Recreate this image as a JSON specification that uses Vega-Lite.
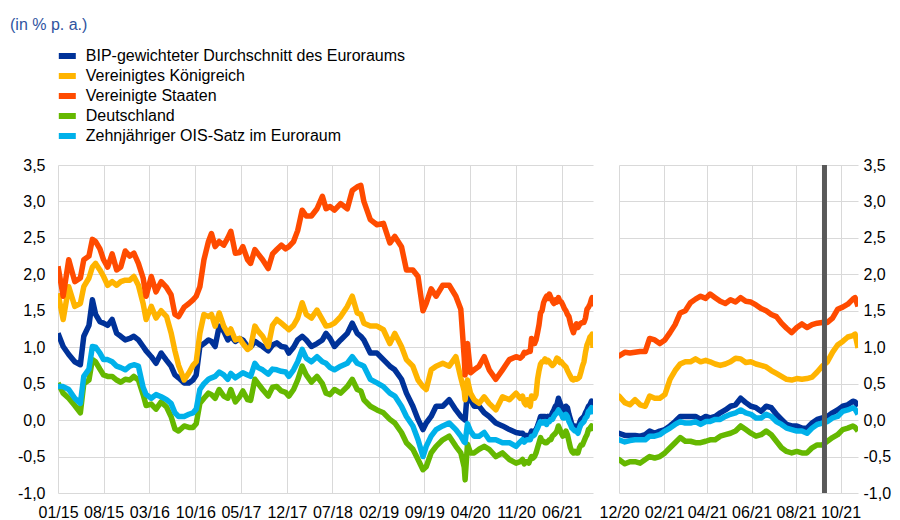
{
  "$schema": "https://vega.github.io/schema/vega-lite/v6.json",
  "background": "white",
  "padding": {"left": 10, "top": 17, "right": 9, "bottom": 0},
  "title": {"text": "(in % p. a.)", "anchor": "start", "frame": "bounds", "font": "Liberation Sans", "fontSize": 16, "fontWeight": "normal", "color": "#2F54A0", "offset": 13},
  "config": {
    "locale": {"number": {"decimal": ",", "thousands": ".", "grouping": [3], "currency": ["", " €"], "minus": "-"}},
    "font": "Liberation Sans",
    "view": {"stroke": null},
    "axis": {"labelFont": "Liberation Sans", "labelFontSize": 16, "labelColor": "#000000", "gridColor": "#d9d9d9", "gridWidth": 1, "domain": false, "ticks": false, "title": null, "labelOverlap": false},
    "legend": {"orient": "none", "legendX": -2.2, "legendY": -119, "symbolType": "stroke", "symbolStrokeWidth": 6, "symbolSize": 289, "labelFont": "Liberation Sans", "labelFontSize": 16, "labelColor": "#000000", "rowPadding": 0, "clipHeight": 20, "labelOffset": 7, "labelLimit": 600}
  },
  "bounds": "flush",
  "spacing": 26,
  "resolve": {"scale": {"color": "shared"}, "legend": {"color": "shared"}},
  "datasets": {
    "yields": [
      {"d": "2015-01-01", "EA": 1.19, "UK": 1.74, "US": 2.11, "DE": 0.51, "OIS": 0.46},
      {"d": "2015-01-25", "EA": 1.01, "UK": 1.38, "US": 1.70, "DE": 0.37, "OIS": 0.46},
      {"d": "2015-02-20", "EA": 0.90, "UK": 1.83, "US": 2.20, "DE": 0.30, "OIS": 0.42},
      {"d": "2015-03-20", "EA": 0.80, "UK": 1.56, "US": 1.90, "DE": 0.20, "OIS": 0.30},
      {"d": "2015-04-15", "EA": 0.76, "UK": 1.60, "US": 1.95, "DE": 0.10, "OIS": 0.23},
      {"d": "2015-05-01", "EA": 1.15, "UK": 1.83, "US": 2.20, "DE": 0.50, "OIS": 0.60},
      {"d": "2015-05-25", "EA": 1.30, "UK": 1.95, "US": 2.25, "DE": 0.55, "OIS": 0.70},
      {"d": "2015-06-10", "EA": 1.65, "UK": 2.10, "US": 2.48, "DE": 0.83, "OIS": 1.01},
      {"d": "2015-06-25", "EA": 1.45, "UK": 2.15, "US": 2.45, "DE": 0.80, "OIS": 1.00},
      {"d": "2015-07-15", "EA": 1.35, "UK": 2.06, "US": 2.35, "DE": 0.70, "OIS": 0.92},
      {"d": "2015-08-01", "EA": 1.33, "UK": 1.97, "US": 2.20, "DE": 0.62, "OIS": 0.83},
      {"d": "2015-08-20", "EA": 1.30, "UK": 1.85, "US": 2.10, "DE": 0.60, "OIS": 0.83},
      {"d": "2015-09-10", "EA": 1.38, "UK": 1.90, "US": 2.28, "DE": 0.60, "OIS": 0.80},
      {"d": "2015-10-01", "EA": 1.19, "UK": 1.85, "US": 2.06, "DE": 0.55, "OIS": 0.74},
      {"d": "2015-10-20", "EA": 1.15, "UK": 1.90, "US": 2.10, "DE": 0.52, "OIS": 0.72},
      {"d": "2015-11-10", "EA": 1.10, "UK": 1.92, "US": 2.32, "DE": 0.56, "OIS": 0.69},
      {"d": "2015-12-01", "EA": 1.12, "UK": 1.92, "US": 2.25, "DE": 0.55, "OIS": 0.74},
      {"d": "2015-12-20", "EA": 1.15, "UK": 1.97, "US": 2.29, "DE": 0.60, "OIS": 0.76},
      {"d": "2016-01-10", "EA": 1.10, "UK": 1.85, "US": 2.15, "DE": 0.55, "OIS": 0.74},
      {"d": "2016-02-01", "EA": 1.01, "UK": 1.60, "US": 1.95, "DE": 0.35, "OIS": 0.45},
      {"d": "2016-02-15", "EA": 0.95, "UK": 1.38, "US": 1.70, "DE": 0.20, "OIS": 0.35},
      {"d": "2016-03-10", "EA": 0.87, "UK": 1.56, "US": 1.97, "DE": 0.22, "OIS": 0.30},
      {"d": "2016-04-01", "EA": 0.78, "UK": 1.40, "US": 1.76, "DE": 0.15, "OIS": 0.35},
      {"d": "2016-04-25", "EA": 0.92, "UK": 1.50, "US": 1.90, "DE": 0.25, "OIS": 0.32},
      {"d": "2016-05-20", "EA": 0.82, "UK": 1.42, "US": 1.82, "DE": 0.18, "OIS": 0.28},
      {"d": "2016-06-10", "EA": 0.74, "UK": 1.20, "US": 1.72, "DE": 0.05, "OIS": 0.23},
      {"d": "2016-06-28", "EA": 0.62, "UK": 0.95, "US": 1.45, "DE": -0.12, "OIS": 0.10},
      {"d": "2016-07-15", "EA": 0.58, "UK": 0.75, "US": 1.42, "DE": -0.15, "OIS": 0.05},
      {"d": "2016-08-10", "EA": 0.51, "UK": 0.55, "US": 1.55, "DE": -0.08, "OIS": 0.05},
      {"d": "2016-09-01", "EA": 0.51, "UK": 0.65, "US": 1.60, "DE": -0.10, "OIS": 0.08},
      {"d": "2016-09-20", "EA": 0.55, "UK": 0.75, "US": 1.65, "DE": -0.10, "OIS": 0.10},
      {"d": "2016-10-05", "EA": 0.62, "UK": 0.80, "US": 1.70, "DE": -0.05, "OIS": 0.15},
      {"d": "2016-10-22", "EA": 1.01, "UK": 1.19, "US": 1.83, "DE": 0.23, "OIS": 0.42},
      {"d": "2016-11-10", "EA": 1.05, "UK": 1.45, "US": 2.20, "DE": 0.30, "OIS": 0.50},
      {"d": "2016-12-01", "EA": 1.10, "UK": 1.42, "US": 2.45, "DE": 0.37, "OIS": 0.56},
      {"d": "2016-12-15", "EA": 1.08, "UK": 1.45, "US": 2.56, "DE": 0.35, "OIS": 0.58},
      {"d": "2017-01-01", "EA": 1.01, "UK": 1.29, "US": 2.38, "DE": 0.30, "OIS": 0.60},
      {"d": "2017-01-20", "EA": 1.29, "UK": 1.47, "US": 2.45, "DE": 0.42, "OIS": 0.66},
      {"d": "2017-02-10", "EA": 1.22, "UK": 1.29, "US": 2.40, "DE": 0.33, "OIS": 0.62},
      {"d": "2017-03-01", "EA": 1.10, "UK": 1.19, "US": 2.50, "DE": 0.30, "OIS": 0.56},
      {"d": "2017-03-15", "EA": 1.15, "UK": 1.25, "US": 2.59, "DE": 0.42, "OIS": 0.64},
      {"d": "2017-04-05", "EA": 1.08, "UK": 1.10, "US": 2.29, "DE": 0.25, "OIS": 0.58},
      {"d": "2017-04-25", "EA": 1.12, "UK": 1.12, "US": 2.30, "DE": 0.32, "OIS": 0.62},
      {"d": "2017-05-10", "EA": 1.10, "UK": 1.05, "US": 2.38, "DE": 0.40, "OIS": 0.65},
      {"d": "2017-06-01", "EA": 1.01, "UK": 0.97, "US": 2.20, "DE": 0.28, "OIS": 0.62},
      {"d": "2017-06-15", "EA": 1.00, "UK": 1.00, "US": 2.15, "DE": 0.27, "OIS": 0.60},
      {"d": "2017-07-05", "EA": 1.08, "UK": 1.29, "US": 2.34, "DE": 0.56, "OIS": 0.78},
      {"d": "2017-07-20", "EA": 1.05, "UK": 1.22, "US": 2.28, "DE": 0.50, "OIS": 0.72},
      {"d": "2017-08-10", "EA": 1.01, "UK": 1.15, "US": 2.20, "DE": 0.42, "OIS": 0.69},
      {"d": "2017-09-05", "EA": 0.95, "UK": 1.01, "US": 2.08, "DE": 0.33, "OIS": 0.63},
      {"d": "2017-09-25", "EA": 1.03, "UK": 1.30, "US": 2.28, "DE": 0.45, "OIS": 0.70},
      {"d": "2017-10-15", "EA": 1.06, "UK": 1.38, "US": 2.34, "DE": 0.46, "OIS": 0.69},
      {"d": "2017-11-05", "EA": 1.01, "UK": 1.33, "US": 2.40, "DE": 0.40, "OIS": 0.67},
      {"d": "2017-11-25", "EA": 1.00, "UK": 1.28, "US": 2.35, "DE": 0.38, "OIS": 0.66},
      {"d": "2017-12-10", "EA": 0.92, "UK": 1.24, "US": 2.38, "DE": 0.33, "OIS": 0.60},
      {"d": "2018-01-01", "EA": 1.00, "UK": 1.30, "US": 2.45, "DE": 0.42, "OIS": 0.69},
      {"d": "2018-01-20", "EA": 1.10, "UK": 1.40, "US": 2.60, "DE": 0.55, "OIS": 0.80},
      {"d": "2018-02-10", "EA": 1.15, "UK": 1.61, "US": 2.88, "DE": 0.74, "OIS": 0.97},
      {"d": "2018-03-01", "EA": 1.10, "UK": 1.45, "US": 2.80, "DE": 0.62, "OIS": 0.85},
      {"d": "2018-03-25", "EA": 1.01, "UK": 1.40, "US": 2.80, "DE": 0.52, "OIS": 0.80},
      {"d": "2018-04-20", "EA": 1.05, "UK": 1.51, "US": 2.90, "DE": 0.60, "OIS": 0.87},
      {"d": "2018-05-15", "EA": 1.10, "UK": 1.38, "US": 3.07, "DE": 0.50, "OIS": 0.80},
      {"d": "2018-06-01", "EA": 1.19, "UK": 1.29, "US": 2.90, "DE": 0.37, "OIS": 0.78},
      {"d": "2018-06-20", "EA": 1.12, "UK": 1.30, "US": 2.93, "DE": 0.35, "OIS": 0.72},
      {"d": "2018-07-10", "EA": 1.01, "UK": 1.33, "US": 2.88, "DE": 0.42, "OIS": 0.69},
      {"d": "2018-08-08", "EA": 1.10, "UK": 1.42, "US": 2.97, "DE": 0.37, "OIS": 0.74},
      {"d": "2018-09-08", "EA": 1.19, "UK": 1.56, "US": 2.90, "DE": 0.46, "OIS": 0.78},
      {"d": "2018-10-01", "EA": 1.33, "UK": 1.70, "US": 3.15, "DE": 0.56, "OIS": 0.87},
      {"d": "2018-10-24", "EA": 1.19, "UK": 1.47, "US": 3.20, "DE": 0.42, "OIS": 0.78},
      {"d": "2018-11-10", "EA": 1.15, "UK": 1.45, "US": 3.22, "DE": 0.40, "OIS": 0.76},
      {"d": "2018-11-24", "EA": 1.10, "UK": 1.33, "US": 3.00, "DE": 0.28, "OIS": 0.74},
      {"d": "2018-12-24", "EA": 0.92, "UK": 1.29, "US": 2.75, "DE": 0.19, "OIS": 0.56},
      {"d": "2019-01-24", "EA": 0.92, "UK": 1.29, "US": 2.68, "DE": 0.14, "OIS": 0.51},
      {"d": "2019-02-23", "EA": 0.83, "UK": 1.24, "US": 2.70, "DE": 0.10, "OIS": 0.46},
      {"d": "2019-03-25", "EA": 0.74, "UK": 1.05, "US": 2.43, "DE": 0.01, "OIS": 0.37},
      {"d": "2019-04-17", "EA": 0.69, "UK": 1.19, "US": 2.52, "DE": -0.04, "OIS": 0.33},
      {"d": "2019-05-18", "EA": 0.56, "UK": 1.01, "US": 2.38, "DE": -0.17, "OIS": 0.19},
      {"d": "2019-06-10", "EA": 0.37, "UK": 0.83, "US": 2.06, "DE": -0.31, "OIS": 0.05},
      {"d": "2019-07-10", "EA": 0.19, "UK": 0.74, "US": 2.06, "DE": -0.40, "OIS": -0.08},
      {"d": "2019-08-03", "EA": 0.01, "UK": 0.55, "US": 1.97, "DE": -0.54, "OIS": -0.27},
      {"d": "2019-08-26", "EA": -0.13, "UK": 0.46, "US": 1.50, "DE": -0.68, "OIS": -0.50},
      {"d": "2019-09-10", "EA": -0.04, "UK": 0.42, "US": 1.60, "DE": -0.64, "OIS": -0.36},
      {"d": "2019-10-03", "EA": 0.05, "UK": 0.69, "US": 1.80, "DE": -0.45, "OIS": -0.22},
      {"d": "2019-10-26", "EA": 0.19, "UK": 0.74, "US": 1.70, "DE": -0.36, "OIS": -0.13},
      {"d": "2019-11-26", "EA": 0.19, "UK": 0.78, "US": 1.85, "DE": -0.27, "OIS": -0.08},
      {"d": "2019-12-26", "EA": 0.28, "UK": 0.74, "US": 1.85, "DE": -0.22, "OIS": -0.04},
      {"d": "2020-01-26", "EA": 0.14, "UK": 0.87, "US": 1.70, "DE": -0.36, "OIS": -0.13},
      {"d": "2020-02-18", "EA": 0.05, "UK": 0.58, "US": 1.52, "DE": -0.45, "OIS": -0.22},
      {"d": "2020-03-05", "EA": 0.01, "UK": 0.40, "US": 0.85, "DE": -0.65, "OIS": -0.30},
      {"d": "2020-03-09", "EA": 0.00, "UK": 0.28, "US": 0.62, "DE": -0.82, "OIS": -0.31},
      {"d": "2020-03-20", "EA": 0.42, "UK": 0.55, "US": 1.05, "DE": -0.33, "OIS": -0.05},
      {"d": "2020-04-03", "EA": 0.28, "UK": 0.37, "US": 0.65, "DE": -0.45, "OIS": -0.15},
      {"d": "2020-04-20", "EA": 0.19, "UK": 0.28, "US": 0.69, "DE": -0.45, "OIS": -0.22},
      {"d": "2020-05-13", "EA": 0.19, "UK": 0.23, "US": 0.74, "DE": -0.40, "OIS": -0.22},
      {"d": "2020-06-06", "EA": 0.10, "UK": 0.32, "US": 0.87, "DE": -0.36, "OIS": -0.17},
      {"d": "2020-06-29", "EA": 0.05, "UK": 0.23, "US": 0.69, "DE": -0.40, "OIS": -0.27},
      {"d": "2020-07-30", "EA": -0.04, "UK": 0.14, "US": 0.56, "DE": -0.50, "OIS": -0.27},
      {"d": "2020-08-30", "EA": -0.08, "UK": 0.32, "US": 0.69, "DE": -0.45, "OIS": -0.31},
      {"d": "2020-10-01", "EA": -0.13, "UK": 0.28, "US": 0.83, "DE": -0.54, "OIS": -0.31},
      {"d": "2020-11-01", "EA": -0.17, "UK": 0.37, "US": 0.87, "DE": -0.59, "OIS": -0.36},
      {"d": "2020-11-20", "EA": -0.18, "UK": 0.30, "US": 0.85, "DE": -0.57, "OIS": -0.30},
      {"d": "2020-12-01", "EA": -0.18, "UK": 0.33, "US": 0.88, "DE": -0.54, "OIS": -0.27},
      {"d": "2020-12-09", "EA": -0.21, "UK": 0.24, "US": 0.93, "DE": -0.60, "OIS": -0.30},
      {"d": "2020-12-16", "EA": -0.21, "UK": 0.21, "US": 0.92, "DE": -0.57, "OIS": -0.28},
      {"d": "2020-12-23", "EA": -0.21, "UK": 0.28, "US": 0.93, "DE": -0.57, "OIS": -0.27},
      {"d": "2020-12-30", "EA": -0.22, "UK": 0.21, "US": 0.94, "DE": -0.59, "OIS": -0.27},
      {"d": "2021-01-06", "EA": -0.20, "UK": 0.19, "US": 0.94, "DE": -0.54, "OIS": -0.27},
      {"d": "2021-01-12", "EA": -0.15, "UK": 0.33, "US": 1.12, "DE": -0.50, "OIS": -0.22},
      {"d": "2021-01-19", "EA": -0.18, "UK": 0.30, "US": 1.10, "DE": -0.52, "OIS": -0.22},
      {"d": "2021-01-26", "EA": -0.15, "UK": 0.30, "US": 1.05, "DE": -0.50, "OIS": -0.20},
      {"d": "2021-02-02", "EA": -0.13, "UK": 0.35, "US": 1.10, "DE": -0.45, "OIS": -0.15},
      {"d": "2021-02-09", "EA": -0.08, "UK": 0.56, "US": 1.20, "DE": -0.38, "OIS": -0.11},
      {"d": "2021-02-16", "EA": -0.02, "UK": 0.68, "US": 1.31, "DE": -0.31, "OIS": -0.06},
      {"d": "2021-02-23", "EA": 0.05, "UK": 0.77, "US": 1.47, "DE": -0.24, "OIS": -0.02},
      {"d": "2021-03-02", "EA": 0.05, "UK": 0.80, "US": 1.50, "DE": -0.29, "OIS": -0.04},
      {"d": "2021-03-09", "EA": 0.05, "UK": 0.80, "US": 1.61, "DE": -0.29, "OIS": -0.04},
      {"d": "2021-03-16", "EA": 0.05, "UK": 0.84, "US": 1.66, "DE": -0.31, "OIS": -0.02},
      {"d": "2021-03-23", "EA": 0.01, "UK": 0.80, "US": 1.70, "DE": -0.31, "OIS": -0.06},
      {"d": "2021-03-30", "EA": 0.05, "UK": 0.82, "US": 1.67, "DE": -0.29, "OIS": -0.02},
      {"d": "2021-04-05", "EA": 0.03, "UK": 0.80, "US": 1.73, "DE": -0.27, "OIS": -0.02},
      {"d": "2021-04-12", "EA": 0.05, "UK": 0.77, "US": 1.68, "DE": -0.27, "OIS": 0.01},
      {"d": "2021-04-19", "EA": 0.10, "UK": 0.75, "US": 1.63, "DE": -0.22, "OIS": 0.01},
      {"d": "2021-04-26", "EA": 0.14, "UK": 0.77, "US": 1.60, "DE": -0.20, "OIS": 0.05},
      {"d": "2021-05-03", "EA": 0.19, "UK": 0.80, "US": 1.65, "DE": -0.18, "OIS": 0.08},
      {"d": "2021-05-10", "EA": 0.21, "UK": 0.85, "US": 1.62, "DE": -0.15, "OIS": 0.10},
      {"d": "2021-05-17", "EA": 0.30, "UK": 0.84, "US": 1.68, "DE": -0.08, "OIS": 0.14},
      {"d": "2021-05-24", "EA": 0.24, "UK": 0.79, "US": 1.63, "DE": -0.13, "OIS": 0.10},
      {"d": "2021-05-31", "EA": 0.19, "UK": 0.80, "US": 1.62, "DE": -0.18, "OIS": 0.08},
      {"d": "2021-06-07", "EA": 0.17, "UK": 0.77, "US": 1.58, "DE": -0.22, "OIS": 0.03},
      {"d": "2021-06-14", "EA": 0.12, "UK": 0.75, "US": 1.53, "DE": -0.20, "OIS": 0.03},
      {"d": "2021-06-21", "EA": 0.19, "UK": 0.73, "US": 1.50, "DE": -0.15, "OIS": 0.08},
      {"d": "2021-06-28", "EA": 0.17, "UK": 0.68, "US": 1.45, "DE": -0.20, "OIS": 0.05},
      {"d": "2021-07-05", "EA": 0.08, "UK": 0.64, "US": 1.42, "DE": -0.29, "OIS": -0.02},
      {"d": "2021-07-12", "EA": 0.01, "UK": 0.60, "US": 1.33, "DE": -0.38, "OIS": -0.06},
      {"d": "2021-07-19", "EA": -0.06, "UK": 0.56, "US": 1.26, "DE": -0.43, "OIS": -0.11},
      {"d": "2021-07-26", "EA": -0.08, "UK": 0.55, "US": 1.20, "DE": -0.45, "OIS": -0.13},
      {"d": "2021-08-02", "EA": -0.08, "UK": 0.57, "US": 1.27, "DE": -0.43, "OIS": -0.15},
      {"d": "2021-08-09", "EA": -0.11, "UK": 0.56, "US": 1.32, "DE": -0.45, "OIS": -0.15},
      {"d": "2021-08-16", "EA": -0.11, "UK": 0.57, "US": 1.27, "DE": -0.45, "OIS": -0.18},
      {"d": "2021-08-23", "EA": -0.04, "UK": 0.59, "US": 1.31, "DE": -0.38, "OIS": -0.11},
      {"d": "2021-08-30", "EA": 0.01, "UK": 0.66, "US": 1.33, "DE": -0.34, "OIS": -0.06},
      {"d": "2021-09-06", "EA": 0.03, "UK": 0.74, "US": 1.34, "DE": -0.34, "OIS": -0.04},
      {"d": "2021-09-13", "EA": 0.05, "UK": 0.80, "US": 1.34, "DE": -0.29, "OIS": -0.02},
      {"d": "2021-09-20", "EA": 0.10, "UK": 0.93, "US": 1.40, "DE": -0.24, "OIS": 0.03},
      {"d": "2021-09-27", "EA": 0.14, "UK": 1.03, "US": 1.52, "DE": -0.20, "OIS": 0.05},
      {"d": "2021-10-04", "EA": 0.19, "UK": 1.08, "US": 1.55, "DE": -0.13, "OIS": 0.12},
      {"d": "2021-10-11", "EA": 0.21, "UK": 1.14, "US": 1.59, "DE": -0.11, "OIS": 0.14},
      {"d": "2021-10-18", "EA": 0.26, "UK": 1.16, "US": 1.66, "DE": -0.08, "OIS": 0.17},
      {"d": "2021-10-21", "EA": 0.25, "UK": 1.18, "US": 1.68, "DE": -0.10, "OIS": 0.15},
      {"d": "2021-10-25", "EA": 0.19, "UK": 0.99, "US": 1.56, "DE": -0.15, "OIS": 0.08}
    ]
  },
  "hconcat": [
    {
      "width": 535,
      "height": 328,
      "data": {"name": "yields"},
      "transform": [{"fold": ["EA", "UK", "US", "DE", "OIS"], "as": ["s", "v"]}],
      "mark": {"type": "line", "strokeWidth": 5.5, "strokeJoin": "round", "clip": true},
      "encoding": {
        "x": {
          "field": "d", "type": "temporal",
          "scale": {"type": "utc", "domain": [{"year": 2015, "month": 1, "date": 1, "utc": true}, {"year": 2021, "month": 10, "date": 25, "utc": true}]},
          "axis": {
            "values": [
              {"year": 2015, "month": 1, "date": 1, "utc": true},
              {"year": 2015, "month": 8, "date": 1, "utc": true},
              {"year": 2016, "month": 3, "date": 1, "utc": true},
              {"year": 2016, "month": 10, "date": 1, "utc": true},
              {"year": 2017, "month": 5, "date": 1, "utc": true},
              {"year": 2017, "month": 12, "date": 1, "utc": true},
              {"year": 2018, "month": 7, "date": 1, "utc": true},
              {"year": 2019, "month": 2, "date": 1, "utc": true},
              {"year": 2019, "month": 9, "date": 1, "utc": true},
              {"year": 2020, "month": 4, "date": 1, "utc": true},
              {"year": 2020, "month": 11, "date": 1, "utc": true},
              {"year": 2021, "month": 6, "date": 1, "utc": true}
            ],
            "format": "%m/%y", "labelPadding": 11, "labelFlush": false, "grid": true
          }
        },
        "y": {
          "field": "v", "type": "quantitative",
          "scale": {"domain": [-1, 3.5], "nice": false},
          "axis": {"values": [-1, -0.5, 0, 0.5, 1, 1.5, 2, 2.5, 3, 3.5], "format": ".1f", "labelPadding": 13, "minExtent": 48, "maxExtent": 48, "grid": true}
        },
        "color": {
          "field": "s", "type": "nominal",
          "scale": {"domain": ["EA", "UK", "US", "DE", "OIS"], "range": ["#003299", "#FFB400", "#FF4B00", "#65B800", "#00B1EA"]},
          "legend": {"title": null, "labelExpr": "datum.label == 'EA' ? 'BIP-gewichteter Durchschnitt des Euroraums' : datum.label == 'UK' ? 'Vereinigtes Königreich' : datum.label == 'US' ? 'Vereinigte Staaten' : datum.label == 'DE' ? 'Deutschland' : 'Zehnjähriger OIS-Satz im Euroraum'"}
        }
      }
    },
    {
      "width": 239,
      "height": 328,
      "layer": [
        {
          "data": {"name": "yields"},
          "transform": [{"fold": ["EA", "UK", "US", "DE", "OIS"], "as": ["s", "v"]}],
          "mark": {"type": "line", "strokeWidth": 5.5, "strokeJoin": "round", "clip": true},
          "encoding": {
            "x": {
              "field": "d", "type": "temporal",
              "scale": {"type": "utc", "domain": [{"year": 2020, "month": 12, "date": 1, "utc": true}, {"year": 2021, "month": 10, "date": 25, "utc": true}]},
              "axis": {
                "values": [
                  {"year": 2020, "month": 12, "date": 1, "utc": true},
                  {"year": 2021, "month": 2, "date": 1, "utc": true},
                  {"year": 2021, "month": 4, "date": 1, "utc": true},
                  {"year": 2021, "month": 6, "date": 1, "utc": true},
                  {"year": 2021, "month": 8, "date": 1, "utc": true},
                  {"year": 2021, "month": 10, "date": 1, "utc": true}
                ],
                "format": "%m/%y", "labelPadding": 11, "labelFlush": false, "grid": true
              }
            },
            "y": {
              "field": "v", "type": "quantitative",
              "scale": {"domain": [-1, 3.5], "nice": false},
              "axis": {"orient": "right", "values": [-1, -0.5, 0, 0.5, 1, 1.5, 2, 2.5, 3, 3.5], "format": ".1f", "labelPadding": 5, "grid": true}
            },
            "color": {
              "field": "s", "type": "nominal",
              "scale": {"domain": ["EA", "UK", "US", "DE", "OIS"], "range": ["#003299", "#FFB400", "#FF4B00", "#65B800", "#00B1EA"]},
              "legend": {"title": null, "labelExpr": "datum.label == 'EA' ? 'BIP-gewichteter Durchschnitt des Euroraums' : datum.label == 'UK' ? 'Vereinigtes Königreich' : datum.label == 'US' ? 'Vereinigte Staaten' : datum.label == 'DE' ? 'Deutschland' : 'Zehnjähriger OIS-Satz im Euroraum'"}
            }
          }
        },
        {
          "data": {"values": [{"d": "2021-09-09"}]},
          "mark": {"type": "rule", "color": "#595959", "strokeWidth": 5},
          "encoding": {"x": {"field": "d", "type": "temporal"}}
        }
      ]
    }
  ]
}
